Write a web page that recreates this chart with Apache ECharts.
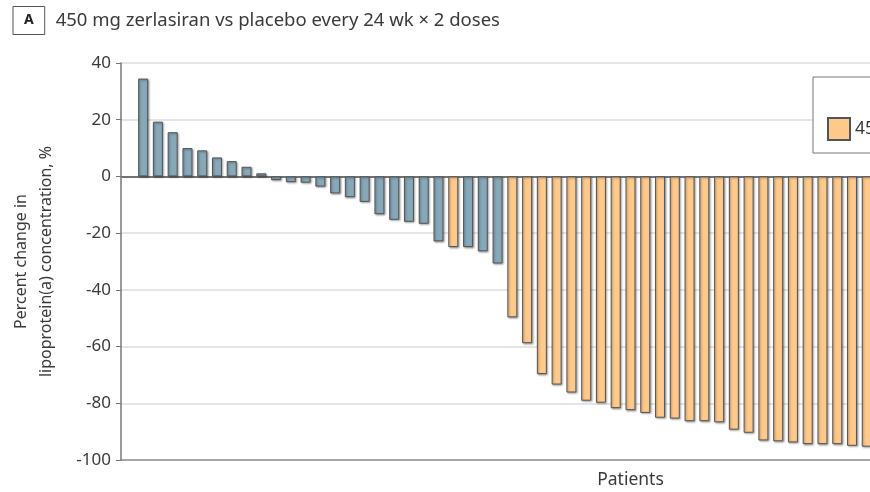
<!DOCTYPE html>
<html>
<head>
<meta charset="utf-8">
<script src="https://cdn.jsdelivr.net/npm/echarts@6/dist/echarts.min.js"></script>
<style>
  html, body { margin: 0; padding: 0; background: #fff; overflow: hidden; width: 870px; height: 492px; }
  #chart { width: 1160px; height: 492px; }
</style>
</head>
<body>
<div id="chart"></div>
<script>
// ---- data (patients beyond the cropped right edge are not visible) ----
const titleLetter = 'A';
const titleText = '450 mg zerlasiran vs placebo every 24 wk \u00d7 2 doses';
const yTicks = [-100, -80, -60, -40, -20, 0, 20, 40];
const seriesNames = ['450 mg zerlasiran', 'Placebo'];

// percent change per patient, in plotted (waterfall) order
const values = [
  34.5, 19.3, 15.6, 10.0, 9.2, 6.7, 5.4, 3.4, 1.1, -1.3,
  -2.0, -2.2, -3.6, -6.0, -7.3, -9.0, -13.3, -15.3, -16.0, -16.7,
  -22.9, -24.9, -24.9, -26.4, -30.7, -49.7, -58.8, -69.7, -73.4, -76.2,
  -79.1, -79.8, -81.7, -82.4, -83.4, -85.1, -85.4, -86.3, -86.3, -86.7,
  -89.3, -90.4, -93.1, -93.4, -93.8, -94.4, -94.4, -94.4, -95.0, -95.3
];
// treatment group per patient: P = placebo, Z = 450 mg zerlasiran
const groups = [
  'P','P','P','P','P','P','P','P','P','P',
  'P','P','P','P','P','P','P','P','P','P',
  'P','Z','P','P','P','Z','Z','Z','Z','Z',
  'Z','Z','Z','Z','Z','Z','Z','Z','Z','Z',
  'Z','Z','Z','Z','Z','Z','Z','Z','Z','Z'
];
const hiddenPatients = 18; // patients that lie beyond the cropped edge (values not visible)

// ---- build ----
const categories = [''];
const zData = ['-'];
const pData = ['-'];
for (let i = 0; i < values.length; i++) {
  categories.push('P' + (i + 1));
  zData.push(groups[i] === 'Z' ? values[i] : '-');
  pData.push(groups[i] === 'P' ? values[i] : '-');
}
for (let i = 0; i < hiddenPatients; i++) {
  categories.push('P' + (values.length + i + 1));
  zData.push('-');
  pData.push('-');
}

const FONT = 'Noto Sans';
const textColor = '#3a3a3a';
const barBorder = '#555555';
const shadow = { shadowColor: 'rgba(0,0,0,0.35)', shadowBlur: 2, shadowOffsetX: 1, shadowOffsetY: 1 };

const chart = echarts.init(document.getElementById('chart'), null, { renderer: 'canvas' });
chart.setOption({
  animation: false,
  backgroundColor: '#ffffff',
  textStyle: { fontFamily: FONT },
  title: {
    left: 13, top: 11, padding: 0,
    text: '{box|' + titleLetter + '}{t|' + titleText + '}',
    textStyle: {
      fontWeight: 'normal',
      rich: {
        box: { fontFamily: FONT, fontSize: 14, lineHeight: 15, fontWeight: 'bold', color: '#222', borderColor: '#555', borderWidth: 1, padding: [7, 11, 7, 11], verticalAlign: 'middle' },
        t: { fontFamily: FONT, fontSize: 18.5, fontWeight: 'normal', color: textColor, padding: [0, 0, 0, 11], verticalAlign: 'middle' }
      }
    }
  },
  legend: {
    left: 813, top: 77,
    orient: 'horizontal',
    data: seriesNames,
    itemWidth: 22, itemHeight: 22, itemGap: 20,
    padding: [40, 14, 12, 14],
    borderColor: '#777', borderWidth: 1, backgroundColor: '#fff',
    textStyle: { fontFamily: FONT, fontSize: 17.5, color: textColor },
    icon: 'rect'
  },
  grid: { left: 121, right: 20, top: 63, bottom: 32, containLabel: false, outerBoundsMode: 'none' },
  xAxis: {
    type: 'category',
    data: categories,
    boundaryGap: true,
    name: 'Patients',
    nameLocation: 'middle',
    nameGap: 11,
    nameTextStyle: { fontFamily: FONT, fontSize: 17.5, color: textColor },
    axisLine: { show: false },
    axisTick: { show: false },
    axisLabel: { show: false },
    splitLine: { show: false }
  },
  yAxis: {
    type: 'value',
    min: -100, max: 40, interval: 20,
    name: 'Percent change in\nlipoprotein(a) concentration, %',
    nameLocation: 'middle',
    nameGap: 62,
    nameTextStyle: { fontFamily: FONT, fontSize: 16, color: textColor, lineHeight: 25 },
    axisLine: { show: true, onZero: false, lineStyle: { color: '#777', width: 1.5 } },
    axisTick: { show: true, length: 5, lineStyle: { color: '#777' } },
    axisLabel: {
      fontFamily: FONT, fontSize: 17, color: textColor, margin: 10,
      formatter: function (v) { return yTicks.indexOf(v) >= 0 ? String(v) : ''; }
    },
    splitLine: {
      show: true,
      lineStyle: { width: 1.5, color: ['#8a8a8a', '#dddddd', '#dddddd', '#dddddd', '#dddddd', '#444444', '#dddddd', '#dddddd'] }
    }
  },
  series: [
    {
      name: seriesNames[0], type: 'bar', data: zData,
      barWidth: 10, barGap: '-100%',
      itemStyle: Object.assign({ color: '#fec98a', borderColor: barBorder, borderWidth: 1 }, shadow)
    },
    {
      name: seriesNames[1], type: 'bar', data: pData,
      barWidth: 10, barGap: '-100%',
      itemStyle: Object.assign({ color: '#86a8b8', borderColor: barBorder, borderWidth: 1 }, shadow)
    }
  ]
});
</script>
</body>
</html>
